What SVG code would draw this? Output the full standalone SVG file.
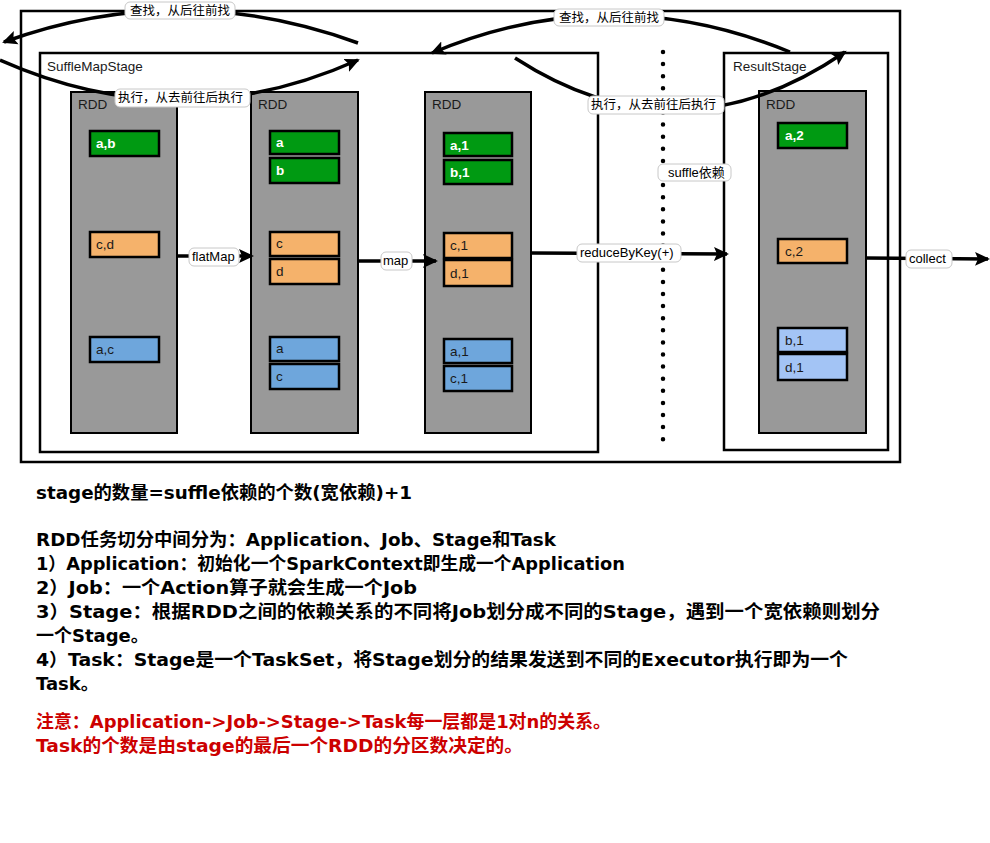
<svg xmlns="http://www.w3.org/2000/svg" width="990" height="843" viewBox="0 0 990 843">
<defs>
<style>
.frame{fill:none;stroke:#000;stroke-width:2.5}
.rdd{fill:#999999;stroke:#000;stroke-width:2}
.g{fill:#009a12;stroke:#000;stroke-width:2.5}
.o{fill:#f5b26b;stroke:#000;stroke-width:2.5}
.b{fill:#6ea6dc;stroke:#000;stroke-width:2.5}
.lb{fill:#a3c4f5;stroke:#000;stroke-width:2.5}
.t{font-family:"Liberation Sans","Noto Sans CJK SC",sans-serif;font-size:13.5px;fill:#1a1a1a}
.tw{font-family:"Liberation Sans","Noto Sans CJK SC",sans-serif;font-size:13.5px;font-weight:bold;fill:#ffffff}
.lbl{fill:#fff;stroke:#c8c8c8;stroke-width:1}
.lt{font-family:"Liberation Sans","Noto Sans CJK SC",sans-serif;font-size:13px;fill:#000}
.ct{font-family:"Noto Sans CJK SC",sans-serif;font-size:12.5px;fill:#000}
.wire{fill:none;stroke:#000;stroke-width:3.5}
.dots{fill:none;stroke:#000;stroke-width:4.5;stroke-linecap:round;stroke-dasharray:0 12.1}
.body{font-family:"DejaVu Sans","Noto Sans CJK SC",sans-serif;font-size:18px;font-weight:bold;fill:#000}
.red{fill:#cc0000}
</style>
<marker id="ah" markerUnits="userSpaceOnUse" markerWidth="16" markerHeight="16" refX="13" refY="8" orient="auto">
<path d="M0,1 L15,8 L0,15 L3,8 z" fill="#000"/>
</marker>
</defs>

<g id="frames">
<rect class="frame" x="21" y="11" width="879" height="451"/>
<rect class="frame" x="40" y="53" width="558" height="399"/>
<rect class="frame" x="724" y="53" width="164" height="397"/>
<text class="t" x="47" y="71">SuffleMapStage</text>
<text class="t" x="733" y="71">ResultStage</text>
</g>

<g id="rdd1">
<rect class="rdd" x="71" y="92" width="106" height="341"/>
<text class="t" x="78" y="109">RDD</text>
<rect class="g" x="90" y="131" width="69" height="25"/><text class="tw" x="96" y="148">a,b</text>
<rect class="o" x="90" y="232" width="69" height="25"/><text class="t" x="96" y="249">c,d</text>
<rect class="b" x="90" y="337" width="69" height="25"/><text class="t" x="96" y="354">a,c</text>
</g>

<g id="rdd2">
<rect class="rdd" x="251" y="92" width="107" height="341"/>
<text class="t" x="258" y="109">RDD</text>
<rect class="g" x="270" y="131" width="69" height="23"/><text class="tw" x="276" y="147">a</text>
<rect class="g" x="270" y="158" width="69" height="25"/><text class="tw" x="276" y="175">b</text>
<rect class="o" x="270" y="232" width="69" height="24"/><text class="t" x="276" y="248">c</text>
<rect class="o" x="270" y="259" width="69" height="25"/><text class="t" x="276" y="276">d</text>
<rect class="b" x="270" y="337" width="69" height="24"/><text class="t" x="276" y="353">a</text>
<rect class="b" x="270" y="364" width="69" height="25"/><text class="t" x="276" y="381">c</text>
</g>

<g id="rdd3">
<rect class="rdd" x="425" y="92" width="106" height="341"/>
<text class="t" x="432" y="109">RDD</text>
<rect class="g" x="444" y="133" width="68" height="23"/><text class="tw" x="450" y="150">a,1</text>
<rect class="g" x="444" y="160" width="68" height="24"/><text class="tw" x="450" y="177">b,1</text>
<rect class="o" x="444" y="233" width="68" height="25"/><text class="t" x="450" y="250">c,1</text>
<rect class="o" x="444" y="260" width="68" height="26"/><text class="t" x="450" y="278">d,1</text>
<rect class="b" x="444" y="339" width="68" height="24"/><text class="t" x="450" y="356">a,1</text>
<rect class="b" x="444" y="366" width="68" height="25"/><text class="t" x="450" y="383">c,1</text>
</g>

<g id="rdd4">
<rect class="rdd" x="759" y="91" width="107" height="342"/>
<text class="t" x="766" y="109">RDD</text>
<rect class="g" x="778" y="123" width="69" height="25"/><text class="tw" x="785" y="140">a,2</text>
<rect class="o" x="778" y="239" width="69" height="24"/><text class="t" x="785" y="256">c,2</text>
<rect class="lb" x="778" y="328" width="69" height="24"/><text class="t" x="785" y="345">b,1</text>
<rect class="lb" x="778" y="354" width="69" height="26"/><text class="t" x="785" y="372">d,1</text>
</g>

<g id="connectors">
<line class="dots" x1="663" y1="52" x2="663" y2="449"/>
<line class="wire" x1="177" y1="256" x2="252" y2="256" marker-end="url(#ah)"/>
<line class="wire" x1="358" y1="261" x2="436" y2="261" marker-end="url(#ah)"/>
<line class="wire" x1="532" y1="253" x2="727" y2="254" marker-end="url(#ah)"/>
<line class="wire" x1="866" y1="258" x2="988" y2="259" marker-end="url(#ah)"/>
<path class="wire" d="M358,43 Q180,-22 4,42" marker-end="url(#ah)"/>
<path class="wire" d="M0,60 Q180,140 358,60" marker-end="url(#ah)"/>
<path class="wire" d="M790,52 Q610,-22 432,53" marker-end="url(#ah)"/>
<path class="wire" d="M515,58 Q680,165 845,52" marker-end="url(#ah)"/>

<rect class="lbl" x="189" y="248" width="50" height="18" rx="5"/><text class="lt" x="192" y="261">flatMap</text>
<rect class="lbl" x="381" y="252" width="31" height="18" rx="5"/><text class="lt" x="383" y="265">map</text>
<rect class="lbl" x="577" y="244" width="104" height="18" rx="5"/><text class="lt" x="580" y="257">reduceByKey(+)</text>
<rect class="lbl" x="906" y="250" width="46" height="18" rx="5"/><text class="lt" x="909" y="263">collect</text>
<rect class="lbl" x="658" y="164" width="73" height="17" rx="5"/><text class="lt" x="668" y="177">suffle依赖</text>
<rect class="lbl" x="125" y="2" width="110" height="17" rx="5"/><text class="ct" x="130" y="15">查找，从后往前找</text>
<rect class="lbl" x="115" y="89" width="135" height="18" rx="5"/><text class="ct" x="118" y="102">执行，从去前往后执行</text>
<rect class="lbl" x="554" y="9" width="110" height="17" rx="5"/><text class="ct" x="559" y="22">查找，从后往前找</text>
<rect class="lbl" x="588" y="96" width="136" height="18" rx="5"/><text class="ct" x="591" y="109">执行，从去前往后执行</text>
</g>

<g id="notes">
<text class="body" x="36" y="499" textLength="376" lengthAdjust="spacingAndGlyphs">stage的数量=suffle依赖的个数(宽依赖)+1</text>
<text class="body" x="36" y="546" textLength="520" lengthAdjust="spacingAndGlyphs">RDD任务切分中间分为：Application、Job、Stage和Task</text>
<text class="body" x="36" y="570" textLength="589" lengthAdjust="spacingAndGlyphs">1）Application：初始化一个SparkContext即生成一个Application</text>
<text class="body" x="36" y="594" textLength="381" lengthAdjust="spacingAndGlyphs">2）Job：一个Action算子就会生成一个Job</text>
<text class="body" x="36" y="618" textLength="844" lengthAdjust="spacingAndGlyphs">3）Stage：根据RDD之间的依赖关系的不同将Job划分成不同的Stage，遇到一个宽依赖则划分</text>
<text class="body" x="36" y="642">一个Stage。</text>
<text class="body" x="36" y="666" textLength="812" lengthAdjust="spacingAndGlyphs">4）Task：Stage是一个TaskSet，将Stage划分的结果发送到不同的Executor执行即为一个</text>
<text class="body" x="36" y="690">Task。</text>
<text class="body red" x="36" y="728" textLength="575" lengthAdjust="spacingAndGlyphs">注意：Application-&gt;Job-&gt;Stage-&gt;Task每一层都是1对n的关系。</text>
<text class="body red" x="36" y="752" textLength="487" lengthAdjust="spacingAndGlyphs">Task的个数是由stage的最后一个RDD的分区数决定的。</text>
</g>
</svg>
